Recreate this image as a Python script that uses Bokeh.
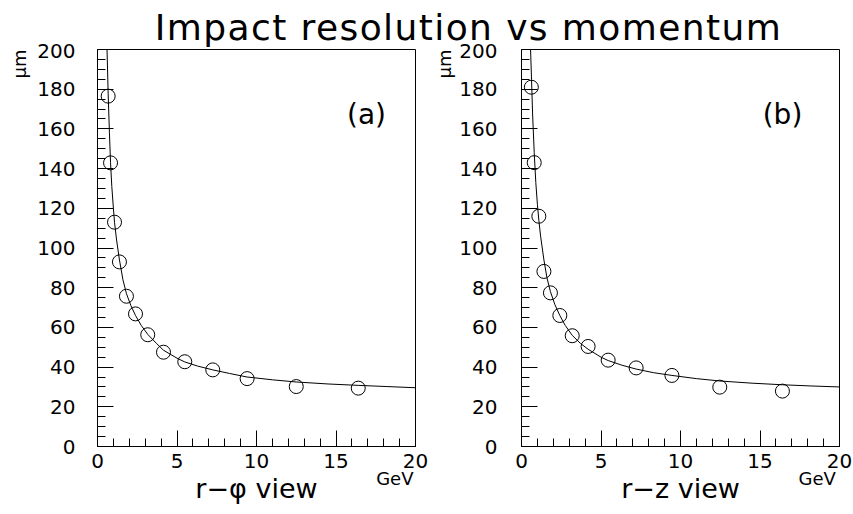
import math
from bokeh.plotting import figure
from bokeh.models import Range1d, FixedTicker, Label, Div, LinearAxis, Title
from bokeh.layouts import column, row
from bokeh.embed import file_html
from bokeh.resources import INLINE

# ---- data ----
title_text = "Impact resolution vs momentum"
unit_y = "\u03bcm"
unit_x = "GeV"

# panel (a): r-phi view
p_a = [0.67, 0.82, 1.07, 1.38, 1.82, 2.39, 3.16, 4.15, 5.49, 7.25, 9.41, 12.5, 16.4]
sig_a = [176.5, 142.9, 113.0, 93.0, 75.7, 66.8, 56.3, 47.5, 42.7, 38.6, 34.2, 30.2, 29.4]
curve_a_p = [0.60, 0.67, 0.75, 0.82, 0.90, 1.00, 1.07, 1.20, 1.38, 1.60, 1.82, 2.10,
             2.39, 2.75, 3.16, 3.70, 4.15, 5.00, 5.49, 6.30, 7.25, 8.30, 9.41, 11.0,
             12.5, 14.5, 16.4, 18.2, 20.0]
curve_a_s = [200, 178, 158, 143, 131, 120, 113, 104, 94, 84, 77, 71,
             66, 61, 56.5, 52, 48.5, 44.5, 42.6, 40.5, 38.6, 36.8, 35.0, 33.6,
             32.5, 31.5, 30.8, 30.2, 29.6]

# panel (b): r-z view
p_b = [0.62, 0.80, 1.09, 1.41, 1.82, 2.41, 3.19, 4.19, 5.45, 7.21, 9.46, 12.47, 16.41]
sig_b = [181.0, 143.0, 116.0, 88.2, 77.4, 66.0, 55.8, 50.4, 43.5, 39.6, 35.8, 29.9, 27.9]
curve_b_p = [0.57, 0.63, 0.70, 0.80, 0.90, 1.00, 1.09, 1.20, 1.41, 1.60, 1.82, 2.10,
             2.41, 2.75, 3.19, 3.70, 4.19, 5.00, 5.45, 6.30, 7.21, 8.30, 9.46, 11.0,
             12.47, 14.5, 16.41, 18.2, 20.0]
curve_b_s = [200, 185, 167, 148, 133, 122, 114, 106, 94, 85, 78, 71.5,
             66, 61, 56, 52, 49, 45, 43.3, 41, 39, 37.2, 35.8, 34.2,
             33.0, 31.9, 31.1, 30.5, 30.0]

x_major = [0, 5, 10, 15, 20]
x_minor = list(range(0, 21))
y_major = list(range(0, 201, 20))
y_minor = list(range(0, 201, 5))

FONT = "DejaVu Sans"
TOP = 43          # height of the title strip
H = 514 - TOP     # height of each panel canvas


def panel(px, py, cp, cs, tag, xlabel, width, bl, br, tag_xy, gev_at,
          mu_standoff, ylab_standoff):
    p = figure(width=width, height=H, output_backend="svg", toolbar_location=None,
               tools="", x_range=Range1d(0, 20), y_range=Range1d(0, 200),
               min_border_left=bl, min_border_right=br, min_border_top=49 - TOP,
               min_border_bottom=H - (446 - TOP))
    p.grid.visible = False
    p.outline_line_color = "black"
    p.outline_line_width = 1
    p.outline_line_alpha = 1
    p.border_fill_color = None
    p.background_fill_color = "white"

    p.xaxis.ticker = FixedTicker(ticks=x_major, minor_ticks=x_minor)
    p.yaxis.ticker = FixedTicker(ticks=y_major, minor_ticks=y_minor)
    for ax in (p.xaxis[0], p.yaxis[0]):
        ax.axis_line_color = "black"
        ax.major_tick_line_color = "black"
        ax.minor_tick_line_color = "black"
        ax.major_tick_in = 16
        ax.major_tick_out = 0
        ax.minor_tick_in = 8
        ax.minor_tick_out = 0
        ax.major_label_text_font = FONT
        ax.major_label_text_font_size = "20px"
        ax.major_label_text_color = "black"
    p.xaxis.major_label_standoff = 7
    p.yaxis.major_label_standoff = ylab_standoff

    # second bottom axis: carries the unit "GeV" and the view name
    ax2 = LinearAxis(ticker=FixedTicker(ticks=[gev_at]),
                     major_label_overrides={gev_at: unit_x},
                     axis_line_color=None, major_tick_line_color=None,
                     minor_tick_line_color=None, major_tick_in=0, major_tick_out=0,
                     minor_tick_in=0, minor_tick_out=0,
                     major_label_standoff=-3, major_label_text_font=FONT,
                     major_label_text_font_size="18px", major_label_text_color="black",
                     axis_label=xlabel, axis_label_standoff=-19,
                     axis_label_text_font=FONT, axis_label_text_font_size="27px",
                     axis_label_text_font_style="normal",
                     axis_label_text_color="black")
    p.add_layout(ax2, "below")

    # unit of the vertical axis, placed at the top of the left side
    p.add_layout(Title(text=unit_y, align="right", standoff=mu_standoff, offset=0,
                       text_font=FONT, text_font_size="18px",
                       text_font_style="normal", text_color="black"), "left")

    p.line(cp, cs, line_color="black", line_width=1)
    p.scatter(px, py, marker="circle", size=14, fill_color=None,
              line_color="black", line_width=1)

    p.add_layout(Label(x=tag_xy[0], y=tag_xy[1], x_units="screen", y_units="screen",
                       text=tag, text_align="center", text_baseline="middle",
                       text_font=FONT, text_font_size="28px", text_color="black"))
    return p


p1 = panel(p_a, sig_a, curve_a_p, curve_a_s, "(a)", "r\u2212\u03c6 view",
           428, 97, 13, (269, 332), 18.7, 10, 22)
p2 = panel(p_b, sig_b, curve_b_p, curve_b_s, "(b)", "r\u2212z view",
           425, 93, 14, (261, 332), 18.6, 4, 24)

title = Div(text=('<div style="width:853px;height:43px;box-sizing:border-box;'
                  'padding-left:84px;padding-top:15px;text-align:center;'
                  'font-family:\'DejaVu Sans\';font-size:36px;line-height:26px;'
                  'letter-spacing:1.4px;color:black;white-space:nowrap;'
                  'overflow:visible;">'
                  + title_text + '</div>'),
            width=853, height=TOP, margin=(0, 0, 0, 0))

layout = column(title, row(p1, p2, spacing=0), spacing=0)
open("out.html", "w").write(file_html(layout, INLINE))
